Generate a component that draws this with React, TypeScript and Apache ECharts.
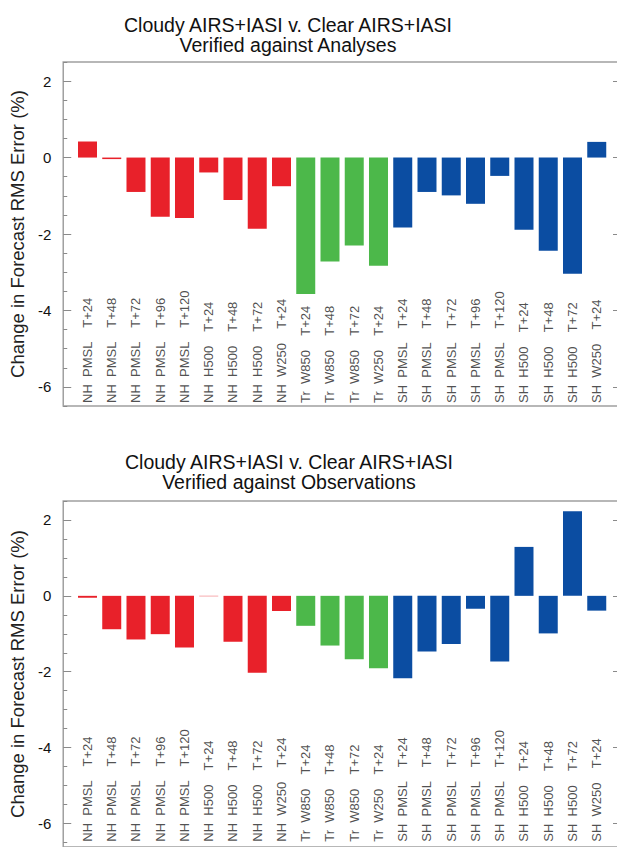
import React, { useEffect, useRef } from "react";
import * as echarts from "echarts";

const regions = ["NH","NH","NH","NH","NH","NH","NH","NH","NH","Tr","Tr","Tr","Tr","SH","SH","SH","SH","SH","SH","SH","SH","SH"];
const fields = ["PMSL","PMSL","PMSL","PMSL","PMSL","H500","H500","H500","W250","W850","W850","W850","W250","PMSL","PMSL","PMSL","PMSL","PMSL","H500","H500","H500","W250"];
const leads = ["T+24","T+48","T+72","T+96","T+120","T+24","T+48","T+72","T+24","T+24","T+48","T+72","T+24","T+24","T+48","T+72","T+96","T+120","T+24","T+48","T+72","T+24"];

const analysesValues = [0.42,-0.04,-0.9,-1.55,-1.58,-0.39,-1.11,-1.86,-0.75,-3.57,-2.72,-2.3,-2.83,-1.83,-0.9,-0.99,-1.21,-0.48,-1.89,-2.44,-3.04,0.41];
const observationsValues = [-0.05,-0.88,-1.15,-1.01,-1.36,-0.01,-1.21,-2.03,-0.4,-0.79,-1.31,-1.67,-1.91,-2.17,-1.47,-1.27,-0.34,-1.73,1.29,-0.99,2.23,-0.39];

const titles = [
  "Cloudy AIRS+IASI v. Clear AIRS+IASI\nVerified against Analyses",
  "Cloudy AIRS+IASI v. Clear AIRS+IASI\nVerified against Observations",
];
const yAxisTitle = "Change in Forecast RMS Error (%)";
const yMajorTicks = [-6, -4, -2, 0, 2];
const yMinorTicks = [-6.5, -5.5, -5, -4.5, -3.5, -3, -2.5, -1.5, -1, -0.5, 0.5, 1, 1.5, 2.5];
const yMax = 2.5;

const regionColors: Record<string, string> = { NH: "#e8212a", Tr: "#4cb84a", SH: "#0b4da2" };

export default function App() {
  const ref = useRef<HTMLDivElement>(null);
  useEffect(() => {
    if (!ref.current) return;
    const chart = echarts.init(ref.current, null, { renderer: "svg" });
    const labels = regions.map((r, i) => `${r}  ${fields[i]}    ${leads[i]}`);
    const font = "Arial, 'Liberation Sans', Helvetica, sans-serif";
    const panels = [
      { grid: { left: 62, top: 62, width: 559, height: 344 }, min: -6.5, labelBase: -6.42, values: analysesValues },
      { grid: { left: 62, top: 501, width: 559, height: 347 }, min: -6.62, labelBase: -6.48, values: observationsValues },
    ];
    const xAxis: any[] = [];
    const yAxis: any[] = [];
    const series: any[] = [];
    panels.forEach((pn, gi) => {
      xAxis.push({ gridIndex: gi, type: "value", min: -1, max: 22, show: false });
      const base = { gridIndex: gi, type: "value", min: pn.min, max: yMax, splitLine: { show: false }, axisLine: { show: false, onZero: false } };
      const tickStyle = { color: "#8a8a8a", width: 1 };
      const yi = yAxis.length;
      yAxis.push({
        ...base,
        position: "left",
        name: yAxisTitle,
        nameLocation: "middle",
        nameGap: 33,
        nameTextStyle: { fontSize: 18.5, color: "#222", fontFamily: font },
        axisTick: { show: true, inside: true, length: 8, customValues: yMajorTicks, lineStyle: tickStyle },
        axisLabel: { show: true, customValues: yMajorTicks, margin: 12, fontSize: 15, color: "#111", fontFamily: font },
      });
      yAxis.push({
        ...base,
        position: "right",
        axisTick: { show: true, inside: true, length: 8, customValues: yMajorTicks, lineStyle: tickStyle },
        axisLabel: { show: false },
      });
      yAxis.push({
        ...base,
        position: "left",
        axisTick: { show: true, inside: true, length: 4, customValues: yMinorTicks, lineStyle: tickStyle },
        axisLabel: { show: false },
      });
      yAxis.push({
        ...base,
        position: "right",
        axisTick: { show: true, inside: true, length: 4, customValues: yMinorTicks, lineStyle: tickStyle },
        axisLabel: { show: false },
      });
      series.push({
        type: "bar",
        xAxisIndex: gi,
        yAxisIndex: yi,
        barWidth: 19,
        silent: true,
        data: pn.values.map((v, i) => ({ value: [i, v], itemStyle: { color: regionColors[regions[i]] } })),
      });
      series.push({
        type: "scatter",
        xAxisIndex: gi,
        yAxisIndex: yi,
        symbolSize: 0.1,
        silent: true,
        itemStyle: { color: "transparent" },
        data: regions.map((_, i) => [i, pn.labelBase]),
        label: {
          show: true,
          position: "inside",
          rotate: 90,
          align: "left",
          verticalAlign: "middle",
          fontSize: 13,
          color: "#222",
          fontFamily: font,
          formatter: (p: any) => labels[p.dataIndex],
        },
      });
    });
    chart.setOption({
      animation: false,
      backgroundColor: "#fff",
      grid: panels.map((pn) => ({ ...pn.grid, show: true, borderColor: "#a0a0a0", borderWidth: 1.5, containLabel: false })),
      xAxis,
      yAxis,
      series,
      graphic: [
        { type: "text", x: 288, y: 15, style: { text: titles[0], fontSize: 19.5, lineHeight: 20, fontFamily: font, fill: "#111", align: "center", verticalAlign: "top" } },
        { type: "text", x: 289, y: 452, style: { text: titles[1], fontSize: 19.5, lineHeight: 20, fontFamily: font, fill: "#111", align: "center", verticalAlign: "top" } },
      ],
    });
    return () => chart.dispose();
  }, []);
  return (
    <div style={{ position: "fixed", left: 0, top: 0, width: 617, height: 847, overflow: "hidden", background: "#fff" }}>
      <div ref={ref} style={{ width: 630, height: 847 }} />
    </div>
  );
}
